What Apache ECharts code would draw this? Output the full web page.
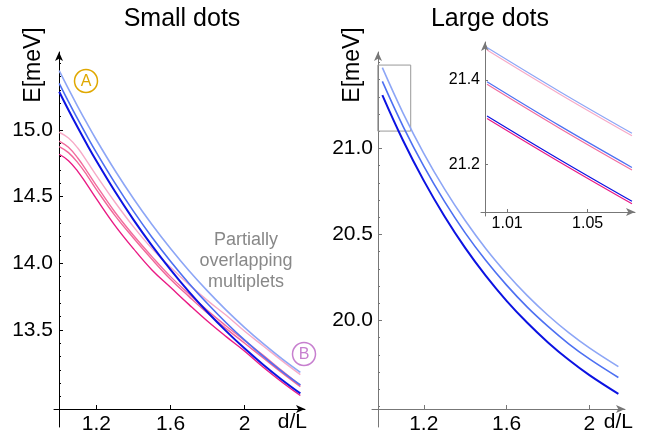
<!DOCTYPE html>
<html>
<head>
<meta charset="utf-8">
<script src="https://cdn.jsdelivr.net/npm/echarts@6/dist/echarts.min.js"></script>
<style>
html, body { margin: 0; padding: 0; background: #fff; }
#charts_main { width: 659px; height: 441px; }
</style>
</head>
<body>
<div id="charts_main"></div>
<script>
// small dots: d/L samples and the 7 levels (3 blue, 4 pink)
const smallX = [1.0, 1.05, 1.1, 1.15, 1.2, 1.3, 1.4, 1.5, 1.6, 1.7, 1.8, 1.9, 2.0, 2.1, 2.2, 2.3];
const smallBlue1 = [15.445, 15.308, 15.176, 15.049, 14.927, 14.698, 14.486, 14.291, 14.111, 13.944, 13.791, 13.649, 13.518, 13.397, 13.285, 13.182];
const smallBlue2 = [15.35, 15.213, 15.081, 14.954, 14.832, 14.603, 14.391, 14.196, 14.016, 13.849, 13.696, 13.554, 13.423, 13.302, 13.19, 13.087];
const smallBlue3 = [15.287, 15.15, 15.018, 14.891, 14.769, 14.54, 14.328, 14.133, 13.953, 13.786, 13.633, 13.491, 13.36, 13.239, 13.127, 13.024];
const smallPink1 = [14.983, 14.94, 14.865, 14.765, 14.66, 14.46, 14.275, 14.11, 13.97, 13.84, 13.72, 13.61, 13.49, 13.38, 13.27, 13.165];
const smallPink2 = [14.917, 14.87, 14.79, 14.69, 14.585, 14.385, 14.21, 14.05, 13.9, 13.77, 13.645, 13.53, 13.42, 13.31, 13.195, 13.085];
const smallPink3 = [14.875, 14.83, 14.755, 14.66, 14.555, 14.36, 14.19, 14.03, 13.88, 13.75, 13.625, 13.51, 13.4, 13.29, 13.18, 13.075];
const smallPink4 = [14.818, 14.77, 14.69, 14.59, 14.485, 14.285, 14.11, 13.95, 13.82, 13.69, 13.565, 13.45, 13.34, 13.22, 13.11, 13.008];

// large dots
const largeX = [1.0, 1.1, 1.2, 1.3, 1.4, 1.5, 1.6, 1.7, 1.8, 1.9, 2.0, 2.14];
const largeBlue1 = [21.47, 21.206, 20.972, 20.765, 20.581, 20.417, 20.273, 20.144, 20.03, 19.929, 19.84, 19.731];
const largeBlue2 = [21.39, 21.129, 20.897, 20.692, 20.509, 20.348, 20.205, 20.077, 19.965, 19.864, 19.776, 19.668];
const largeBlue3 = [21.31, 21.046, 20.813, 20.606, 20.422, 20.259, 20.114, 19.986, 19.872, 19.771, 19.682, 19.573];

// inset (zoom of the large dots near d/L = 1)
const insetX = [1.0, 1.036, 1.072];
const insetBlue1 = [21.477, 21.373, 21.274];
const insetPink1 = [21.471, 21.367, 21.268];
const insetBlue2 = [21.396, 21.292, 21.193];
const insetPink2 = [21.39, 21.286, 21.187];
const insetBlue3 = [21.315, 21.212, 21.113];
const insetPink3 = [21.309, 21.206, 21.107];
const insetBox = [0.978, 1.137, 21.101, 21.485]; // x0, x1, y0, y1 of the zoomed region

// ticks
const leftXTicks = [1.2, 1.6, 2.0];
const leftYTicks = [13.5, 14.0, 14.5, 15.0];
const rightXTicks = [1.2, 1.6, 2.0];
const rightYTicks = [20.0, 20.5, 21.0];
const insetXTicks = [1.01, 1.05];
const insetYTicks = [21.2, 21.4];

const FONT = '"Liberation Sans", Arial, sans-serif';

function minorTicks(from, to, majors) {
  const out = [];
  for (let i = Math.round(from * 10); i <= Math.round(to * 10); i++) {
    const v = i / 10;
    if (!majors.some(m => Math.abs(m - v) < 1e-6)) out.push(v);
  }
  return out;
}

function axis(o) {
  return {
    type: 'value',
    gridIndex: o.grid,
    position: o.position,
    offset: o.offset,
    min: o.min,
    max: o.max,
    name: o.name || '',
    nameLocation: 'end',
    nameGap: o.nameGap || 0,
    nameTextStyle: {
      color: '#000', fontSize: 21, fontFamily: FONT,
      align: 'right', verticalAlign: 'top', padding: [3, 0, 0, 0]
    },
    axisLine: {
      show: o.line !== false,
      onZero: false,
      symbol: ['none', 'arrow'],
      symbolSize: [6, 9],
      lineStyle: { color: o.color, width: 1 }
    },
    axisTick: {
      show: true, inside: true, length: o.tickLen,
      customValues: o.ticks,
      lineStyle: { color: o.color, width: 1 }
    },
    axisLabel: {
      show: !!o.fmt,
      customValues: o.ticks,
      margin: o.margin || 5,
      color: '#000',
      fontSize: o.fontSize || 21,
      fontFamily: FONT,
      formatter: o.fmt
    },
    splitLine: { show: false },
    axisPointer: { show: false }
  };
}

const fmtX = v => String(+v.toFixed(2));
const fmtY1 = v => v.toFixed(1);

function line(name, xs, ys, color, width, xi, yi) {
  return {
    name: name,
    type: 'line',
    xAxisIndex: xi,
    yAxisIndex: yi,
    data: xs.map((x, i) => [x, ys[i]]),
    showSymbol: false,
    smooth: 0.4,
    lineStyle: { color: color, width: width },
    silent: true
  };
}

function init() {
  let Chart = echarts.init(document.getElementById('charts_main'));

  const largeSeries = line('L1', largeX, largeBlue1, '#8da6f6', 1.6, 1, 2);
  largeSeries.markArea = {
    silent: true,
    itemStyle: { color: 'rgba(0,0,0,0)', borderColor: '#999', borderWidth: 1 },
    data: [[{ coord: [insetBox[0], insetBox[3]] }, { coord: [insetBox[1], insetBox[2]] }]]
  };

  let option = {
    animation: false,
    backgroundColor: '#fff',
    title: [
      { text: 'Small dots', left: 177, top: 2, textAlign: 'center',
        textStyle: { fontSize: 25, fontWeight: 'normal', color: '#000', fontFamily: FONT } },
      { text: 'Large dots', left: 485, top: 2, textAlign: 'center',
        textStyle: { fontSize: 25, fontWeight: 'normal', color: '#000', fontFamily: FONT } }
    ],
    grid: [
      { left: 54, top: 52, width: 251, height: 375, containLabel: false, outerBoundsMode: 'none' },
      { left: 372, top: 52, width: 253, height: 375, containLabel: false, outerBoundsMode: 'none' },
      { left: 481, top: 42, width: 154, height: 174, containLabel: false, outerBoundsMode: 'none' }
    ],
    xAxis: [
      axis({ grid: 0, position: 'bottom', offset: -18, min: 0.972, max: 2.325, color: '#000',
        tickLen: 4, ticks: leftXTicks, fmt: fmtX, margin: 5, name: 'd/L', nameGap: 2 }),
      axis({ grid: 1, position: 'bottom', offset: -18, min: 0.95, max: 2.172, color: '#777',
        tickLen: 4, ticks: rightXTicks, fmt: fmtX, margin: 5, name: 'd/L', nameGap: 8 }),
      axis({ grid: 2, position: 'bottom', offset: -4, min: 0.997, max: 1.0735, color: '#777',
        tickLen: 3, ticks: insetXTicks, fmt: fmtX, margin: 4, fontSize: 16 })
    ],
    yAxis: [
      axis({ grid: 0, position: 'left', offset: -5, min: 12.772, max: 15.585, color: '#000',
        tickLen: 4, ticks: leftYTicks, fmt: fmtY1, margin: 6 }),
      axis({ grid: 0, position: 'left', offset: -5, min: 12.772, max: 15.585, color: '#000',
        tickLen: 2, ticks: minorTicks(13.0, 15.5, leftYTicks), line: false }),
      axis({ grid: 1, position: 'left', offset: -6, min: 19.38, max: 21.561, color: '#777',
        tickLen: 4, ticks: rightYTicks, fmt: fmtY1, margin: 5 }),
      axis({ grid: 1, position: 'left', offset: -6, min: 19.38, max: 21.561, color: '#777',
        tickLen: 2, ticks: minorTicks(19.5, 21.5, rightYTicks), line: false }),
      axis({ grid: 2, position: 'left', offset: -4, min: 21.078, max: 21.49, color: '#777',
        tickLen: 3, ticks: insetYTicks, fmt: fmtY1, margin: 5, fontSize: 16 })
    ],
    series: [
      line('P1', smallX, smallPink1, '#f7aac7', 1.4, 0, 0),
      line('P2', smallX, smallPink2, '#f26d9e', 1.4, 0, 0),
      line('P3', smallX, smallPink3, '#f2679a', 1.4, 0, 0),
      line('P4', smallX, smallPink4, '#ea1a84', 1.4, 0, 0),
      line('B1', smallX, smallBlue1, '#8da6f6', 1.6, 0, 0),
      line('B2', smallX, smallBlue2, '#4d70f2', 1.6, 0, 0),
      line('B3', smallX, smallBlue3, '#0b12e2', 2, 0, 0),

      largeSeries,
      line('L2', largeX, largeBlue2, '#4d70f2', 1.6, 1, 2),
      line('L3', largeX, largeBlue3, '#0b12e2', 2, 1, 2),

      line('IP1', insetX, insetPink1, '#f7aac7', 1.2, 2, 4),
      line('IB1', insetX, insetBlue1, '#8da6f6', 1.2, 2, 4),
      line('IP2', insetX, insetPink2, '#f26d9e', 1.2, 2, 4),
      line('IB2', insetX, insetBlue2, '#4d70f2', 1.2, 2, 4),
      line('IP3', insetX, insetPink3, '#ea1a84', 1.2, 2, 4),
      line('IB3', insetX, insetBlue3, '#0b12e2', 1.2, 2, 4)
    ],
    graphic: [
      { type: 'text', x: 34, y: 65, rotation: Math.PI / 2,
        style: { text: 'E[meV]', fontSize: 23, fontFamily: FONT, fill: '#000', align: 'center', verticalAlign: 'middle' } },
      { type: 'text', x: 353, y: 65, rotation: Math.PI / 2,
        style: { text: 'E[meV]', fontSize: 23, fontFamily: FONT, fill: '#000', align: 'center', verticalAlign: 'middle' } },
      { type: 'circle', shape: { cx: 86, cy: 81, r: 11.5 },
        style: { fill: 'none', stroke: '#e0a800', lineWidth: 1.5 } },
      { type: 'text', x: 86, y: 82,
        style: { text: 'A', fontSize: 16, fontFamily: FONT, fill: '#e0a800', align: 'center', verticalAlign: 'middle' } },
      { type: 'circle', shape: { cx: 304, cy: 354, r: 11.5 },
        style: { fill: 'none', stroke: '#c77fcf', lineWidth: 1.5 } },
      { type: 'text', x: 304, y: 355,
        style: { text: 'B', fontSize: 16, fontFamily: FONT, fill: '#c77fcf', align: 'center', verticalAlign: 'middle' } },
      { type: 'text', x: 246, y: 261,
        style: { text: 'Partially\noverlapping\nmultiplets', fontSize: 18, lineHeight: 21, fontFamily: FONT,
          fill: '#888', align: 'center', verticalAlign: 'middle' } }
    ]
  };
  Chart.setOption(option);
}

init();
</script>
</body>
</html>
